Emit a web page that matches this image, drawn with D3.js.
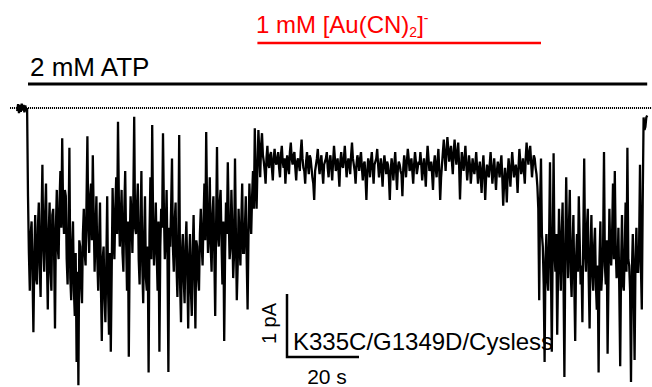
<!DOCTYPE html>
<html>
<head>
<meta charset="utf-8">
<script src="https://cdn.jsdelivr.net/npm/d3@7"></script>
<style>
  html, body { margin: 0; padding: 0; background: #fff; }
  svg { display: block; }
  text { font-family: "Liberation Sans", Arial, Helvetica, sans-serif; }
</style>
</head>
<body>
<svg id="chart" width="652" height="387"></svg>
<script>
// ---------------- data ----------------
// single-channel current trace: amplitude of inward current in pA
// (plotted downward from the closed-channel level, dotted line)
const sampleInterval = 0.25;  // s
const startTime = -3;         // s
const baselineSegment = [0.05, -0.06, 0.08, -0.05, 0.06, -0.07, 0.04, -0.05, 0.07, -0.04, 0.05, 0.0];
const atpSegment = [
  1.4, 2.3, 2.9, 2.0, 1.8, 2.6, 3.56, 2.4, 1.7, 2.7, 2.8, 1.9, 1.5, 2.5, 3.0, 1.8, 0.9, 2.2, 2.6, 1.7,
  1.2, 2.4, 3.2, 2.0, 1.5, 2.6, 2.9, 1.7, 1.6, 2.3, 3.5, 1.9, 1.3, 2.2, 2.4, 1.5, 1.0, 1.9, 0.48, 1.6,
  2.0, 1.3, 1.4, 2.4, 2.8, 2.0, 0.63, 2.7, 3.05, 2.2, 1.8, 2.9, 3.3, 2.3, 4.03, 2.6, 4.4, 2.1, 2.2, 2.8,
  3.1, 2.0, 1.6, 2.3, 2.5, 1.5, 0.45, 1.9, 2.3, 1.4, 1.2, 2.1, 0.75, 1.7, 2.6, 2.0, 1.4, 2.4, 2.9, 2.1,
  1.5, 2.8, 3.7, 2.4, 2.2, 3.0, 3.4, 2.5, 1.4, 2.9, 3.6, 2.3, 3.87, 2.6, 1.27, 2.0, 2.4, 1.6, 1.1, 2.0,
  0.22, 1.5, 2.2, 1.8, 1.3, 2.3, 2.6, 1.6, 1.0, 2.1, 2.9, 1.8, 3.95, 2.2, 1.4, 1.7, 2.3, 1.5, 0.14, 1.9,
  2.0, 1.6, 1.2, 2.4, 2.8, 1.9, 1.0, 2.5, 3.1, 2.1, 1.4, 2.7, 2.9, 2.2, 4.2, 2.0, 1.1, 2.4, 0.27, 1.8,
  2.5, 2.1, 1.5, 2.3, 2.9, 1.8, 3.87, 2.2, 1.6, 1.9, 0.4, 1.6, 2.4, 2.0, 1.3, 2.4, 4.19, 1.9, 2.2, 1.6,
  0.8, 2.2, 2.6, 1.8, 1.5, 2.5, 3.0, 2.2, 0.43, 2.8, 3.4, 2.3, 2.0, 2.7, 3.1, 2.2, 1.8, 2.6, 3.5, 2.4,
  2.0, 2.9, 3.3, 2.3, 1.7, 2.6, 3.5, 2.1, 2.2, 2.7, 2.9, 2.0, 1.6, 2.2, 2.5, 1.8, 1.2, 2.1, 0.38, 1.6,
  2.3, 1.9, 1.1, 2.2, 2.6, 1.7, 1.4, 2.3, 3.3, 1.9, 0.62, 2.0, 2.2, 1.5, 1.3, 2.1, 2.8, 1.8, 3.7, 2.3,
  1.5, 2.0, 0.86, 1.7, 2.4, 2.2, 1.3, 1.9, 2.7, 2.3, 0.8, 2.0, 3.05, 2.5, 1.6, 2.1, 2.5, 1.8, 1.2, 2.3,
  2.3, 1.9, 1.4, 2.4, 3.2, 2.0, 1.2, 1.7, 2.0, 1.4, 1.0, 1.6, 0.32, 1.2, 1.6, 0.9
];
const goldSegment = [
  0.35, 0.7, 1.1, 0.6, 0.4, 0.75, 0.85, 1.0, 1.2, 0.8, 0.6, 0.9, 0.95, 0.75, 0.7, 0.95, 1.15, 0.8, 0.65, 0.85,
  0.9, 0.8, 0.7, 0.95, 1.1, 0.75, 0.6, 0.85, 0.95, 0.8, 1.2, 0.9, 0.75, 0.95, 1.05, 0.7, 0.55, 0.8, 0.9, 0.75,
  0.7, 0.95, 1.15, 0.85, 0.8, 0.9, 1.0, 0.7, 0.5, 0.8, 0.95, 1.0, 1.2, 0.85, 0.7, 0.9, 1.05, 0.75, 0.8, 0.95,
  1.1, 1.2, 1.46, 1.0, 0.9, 0.8, 0.65, 0.9, 1.05, 0.85, 0.75, 1.0, 1.2, 0.9, 0.85, 0.8, 0.7, 0.95, 1.1, 0.85,
  0.75, 0.95, 1.15, 0.85, 0.6, 0.8, 1.0, 0.9, 0.8, 1.0, 1.25, 0.85, 0.7, 0.9, 0.95, 0.8, 0.6, 0.85, 1.1, 0.9,
  0.8, 0.9, 1.05, 0.75, 0.55, 0.8, 0.9, 1.0, 1.2, 0.9, 0.75, 0.85, 1.0, 0.8, 0.7, 0.95, 1.15, 0.9, 0.85, 1.1,
  1.46, 1.0, 0.8, 0.9, 1.1, 0.85, 0.7, 0.95, 1.2, 0.9, 0.85, 0.8, 0.65, 0.9, 1.1, 0.95, 0.8, 1.0, 1.25, 0.9,
  0.75, 0.9, 1.05, 0.85, 0.9, 1.1, 1.46, 1.0, 0.8, 0.95, 1.15, 0.9, 0.7, 1.0, 1.3, 0.95, 0.85, 0.9, 1.0, 1.05,
  1.4, 0.95, 0.75, 0.9, 1.1, 0.85, 0.65, 0.8, 1.0, 0.9, 0.8, 1.0, 1.2, 0.9, 0.7, 0.85, 1.05, 0.95, 0.85, 0.9,
  0.7, 0.9, 1.15, 0.95, 0.8, 1.0, 1.25, 0.85, 0.6, 0.8, 1.0, 0.95, 0.85, 1.05, 1.3, 0.9, 0.75, 0.95, 1.1, 0.85,
  0.65, 1.0, 1.46, 1.1, 0.9, 0.7, 0.5, 0.75, 1.0, 0.7, 0.46, 0.65, 0.85, 0.7, 0.6, 0.85, 1.05, 0.7, 0.5, 0.75,
  0.9, 0.7, 0.55, 0.9, 1.45, 1.0, 0.7, 0.85, 1.0, 0.8, 0.6, 0.9, 1.15, 0.95, 0.75, 0.9, 1.2, 1.0, 0.8, 0.95,
  1.05, 0.9, 0.7, 0.95, 1.2, 1.0, 0.85, 1.1, 1.35, 0.95, 0.75, 1.05, 1.46, 1.1, 0.9, 1.0, 1.1, 0.9, 0.7, 0.95,
  1.2, 1.0, 0.8, 1.05, 1.3, 1.0, 0.85, 0.95, 1.1, 0.9, 0.75, 1.1, 1.55, 1.2, 0.95, 1.15, 1.5, 1.05, 0.8, 1.0,
  1.25, 0.95, 0.7, 0.9, 1.1, 1.0, 0.9, 1.05, 1.35, 0.95, 0.65, 0.85, 1.05, 0.95, 0.8, 1.0, 1.2, 0.8, 0.55, 0.75,
  0.9, 0.7, 0.6, 0.85, 1.1, 0.9, 0.75, 0.8, 0.95, 1.05, 1.25, 1.6
];
const washSegment = [
  3.05, 1.5, 0.8, 2.0, 2.2, 2.8, 4.03, 2.4, 2.0, 2.7, 2.9, 2.1, 0.86, 2.5, 3.87, 2.2, 0.72, 2.3, 2.6, 2.0,
  3.6, 2.6, 1.6, 2.3, 2.9, 2.0, 1.5, 2.7, 4.27, 2.3, 1.1, 2.1, 2.7, 1.9, 1.3, 2.6, 3.0, 2.2, 1.7, 2.8,
  3.7, 2.4, 2.0, 2.6, 1.4, 2.1, 2.8, 2.5, 3.4, 2.0, 0.8, 2.3, 2.6, 1.9, 1.6, 2.7, 3.5, 2.3, 1.7, 2.6,
  2.9, 2.2, 1.9, 2.8, 3.2, 2.5, 4.2, 2.4, 1.8, 2.9, 2.6, 2.2, 0.7, 2.5, 2.8, 2.1, 3.9, 2.7, 1.6, 2.3,
  2.5, 2.0, 1.2, 2.4, 1.0, 2.2, 2.7, 2.6, 1.9, 2.9, 4.1, 2.5, 1.7, 2.8, 2.9, 2.3, 1.5, 2.6, 0.63, 2.4,
  2.5, 2.9, 4.35, 2.6, 2.0, 2.9, 4.0, 2.4, 1.9, 2.6, 2.6, 2.2, 0.9, 2.5, 3.2, 1.5, 0.15, 0.35, 0.3, 0.15,
  0.12
];

const atpBar = { label: "2 mM ATP", start: 0.5, end: 172 };
const goldBar = { label: "1 mM [Au(CN)2]-", start: 64, end: 142.5 };
const recordingLabel = "K335C/G1349D/Cysless";
const scaleBarCurrent = 1;   // pA
const scaleBarTime = 20;     // s

// ---------------- drawing ----------------
const svg = d3.select("#chart");
const W = 652, H = 387;

const x = d3.scaleLinear().domain([0, 172]).range([28, 647.2]);
const y = d3.scaleLinear().domain([0, 1]).range([108, 171]);

const current = [].concat(baselineSegment, atpSegment, goldSegment, washSegment);
const trace = current.map((v, i) => ({ t: startTime + i * sampleInterval, v }));

// closed-level (zero current) dotted line
svg.append("line")
  .attr("x1", 10).attr("x2", W)
  .attr("y1", y(0)).attr("y2", y(0))
  .attr("stroke", "#000").attr("stroke-width", 2)
  .attr("stroke-dasharray", "1.1,0.9");

// current trace
const line = d3.line().x(d => x(d.t)).y(d => y(d.v));
svg.append("path")
  .datum(trace)
  .attr("d", line)
  .attr("fill", "none")
  .attr("stroke", "#000")
  .attr("stroke-width", 2.3)
  .attr("stroke-linejoin", "miter");

// ATP application bar
svg.append("line")
  .attr("x1", x(atpBar.start) - 1.8).attr("x2", x(atpBar.end))
  .attr("y1", 84).attr("y2", 84)
  .attr("stroke", "#000").attr("stroke-width", 3);
svg.append("text")
  .attr("x", 30).attr("y", 76)
  .attr("font-size", 26).attr("fill", "#000")
  .text(atpBar.label);

// gold application bar
svg.append("line")
  .attr("x1", x(goldBar.start) - 1).attr("x2", x(goldBar.end))
  .attr("y1", 43).attr("y2", 43)
  .attr("stroke", "#f00").attr("stroke-width", 2.7);
const gt = svg.append("text")
  .attr("x", 256).attr("y", 33)
  .attr("font-size", 24).attr("fill", "#f00");
gt.append("tspan").text("1 mM [Au(CN)");
gt.append("tspan").attr("font-size", 14).attr("dy", 4).text("2");
gt.append("tspan").attr("dy", -4).text("]");
gt.append("tspan").attr("font-size", 14).attr("dy", -10).text("-");

// scale bars
const sbX0 = 287, sbY0 = 357;
const sbV = y(scaleBarCurrent) - y(0);
const sbH = x(scaleBarTime) - x(0);
svg.append("path")
  .attr("d", `M${sbX0},${sbY0 - sbV}V${sbY0}H${sbX0 + sbH}`)
  .attr("fill", "none").attr("stroke", "#000").attr("stroke-width", 2.5);
svg.append("text")
  .attr("transform", `translate(276,${sbY0 - sbV / 2 - 2}) rotate(-90)`)
  .attr("text-anchor", "middle").attr("font-size", 20)
  .text(scaleBarCurrent + " pA");
svg.append("text")
  .attr("x", sbX0 + sbH / 2 + 4).attr("y", 384)
  .attr("text-anchor", "middle").attr("font-size", 21)
  .text(scaleBarTime + " s");
svg.append("text")
  .attr("x", 293).attr("y", 350)
  .attr("font-size", 24)
  .text(recordingLabel);
</script>
</body>
</html>
